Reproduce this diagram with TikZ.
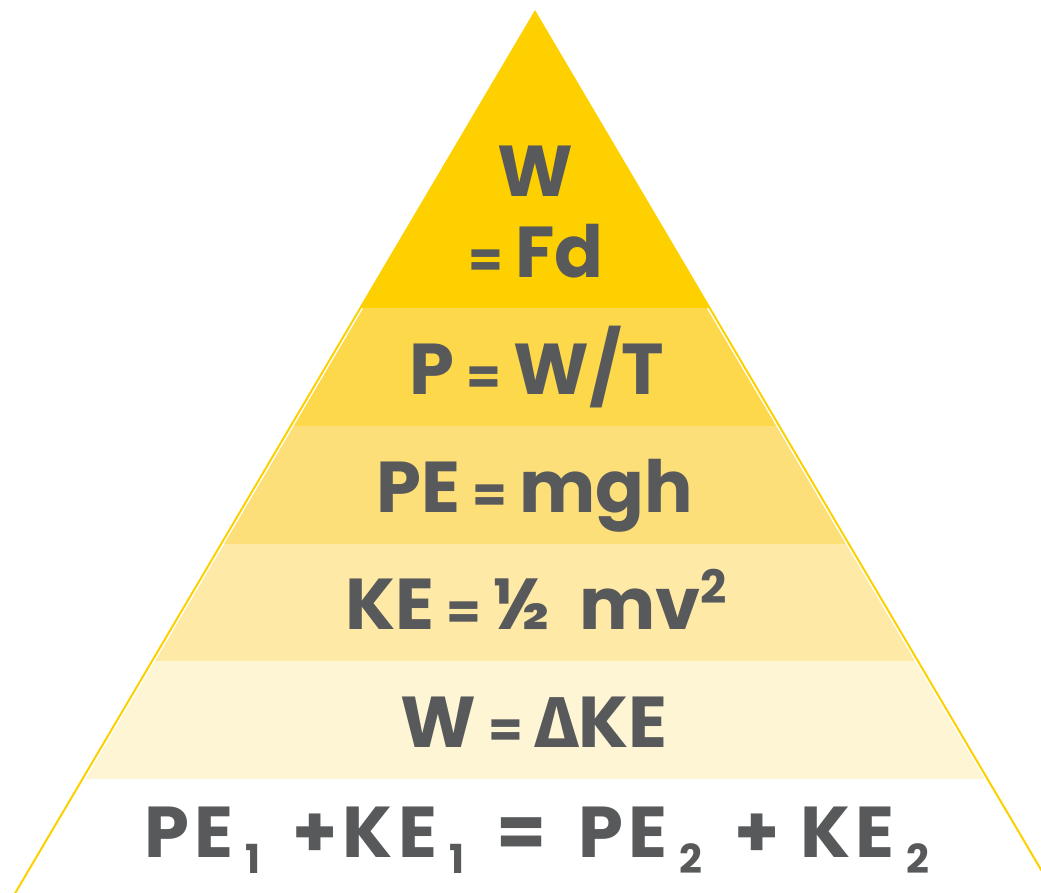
\documentclass[tikz,border=0pt]{standalone}
\usepackage{fontspec}
\newfontfamily\poppins{Poppins}
\newfontfamily\greekfont{Fira Sans}
\usetikzlibrary{positioning}
\definecolor{topyellow}{RGB}{254,208,0}
\definecolor{rimyellow}{RGB}{253,208,0}
\definecolor{bandb}{RGB}{253,216,75}
\definecolor{bandc}{RGB}{253,223,122}
\definecolor{bandd}{RGB}{254,234,166}
\definecolor{bande}{RGB}{254,245,213}
\definecolor{textgray}{RGB}{88,89,91}
\newcommand{\eqs}{{\fontsize{50}{50}\selectfont =}}
\newcommand{\lowidx}[1]{\raisebox{-16pt}{\fontsize{40}{40}\selectfont #1}}
\newcommand{\highidx}[1]{\raisebox{26pt}{\fontsize{46}{46}\selectfont #1}}
\tikzset{
  formula/.style={font=\poppins\bfseries\fontsize{72}{80}\selectfont, text=textgray, inner sep=0pt, anchor=base},
  rim/.style={draw=rimyellow, line width=2pt}
}
\begin{document}
\begin{tikzpicture}[x=1pt, y=-1pt]
\useasboundingbox (0,0) rectangle (1041,893);
\clip (0,0) rectangle (1041,893);
% bands, from the top
\fill[topyellow] (535,12) -- ({535-0.59*(308-12)},308) -- ({535+0.59*(308-12)},308) -- cycle;
\foreach \ya/\yb/\col in {308/426/bandb, 426/544/bandc, 544/661/bandd, 661/779/bande}
  \fill[\col] ({535-0.59*(\ya-12)+3},\ya) -- ({535-0.59*(\yb-12)+3},\yb)
    -- ({535+0.59*(\yb-12)-3},\yb) -- ({535+0.59*(\ya-12)-3},\ya) -- cycle;
\draw[rim] (535,12) -- ({535-0.59*(950-12)},950) -- ({535+0.59*(950-12)},950) -- cycle;
% formulas
\node[formula] (work) at (535,197) {W};
\node[formula] (force) at (536,278) {\eqs\,Fd};
\node[formula] (power) at (537,394) {P\,\eqs\,W/T};
\node[formula] (potential) at (535,512) {PE\,\eqs\,mgh};
\node[formula] (kinetic) at (536,629) {KE\,\eqs\,½\, mv\highidx{2}};
\node[formula] (theorem) at (534,747) {W\,\eqs\,{\greekfont\bfseries Δ}KE};
\node[formula] (conserve) at (537,857) {\addfontfeature{LetterSpace=7}PE\,\lowidx{1}\, +KE\,\lowidx{1}\, = \,PE\,\lowidx{2}\, + KE\,\lowidx{2}};
\end{tikzpicture}
\end{document}
